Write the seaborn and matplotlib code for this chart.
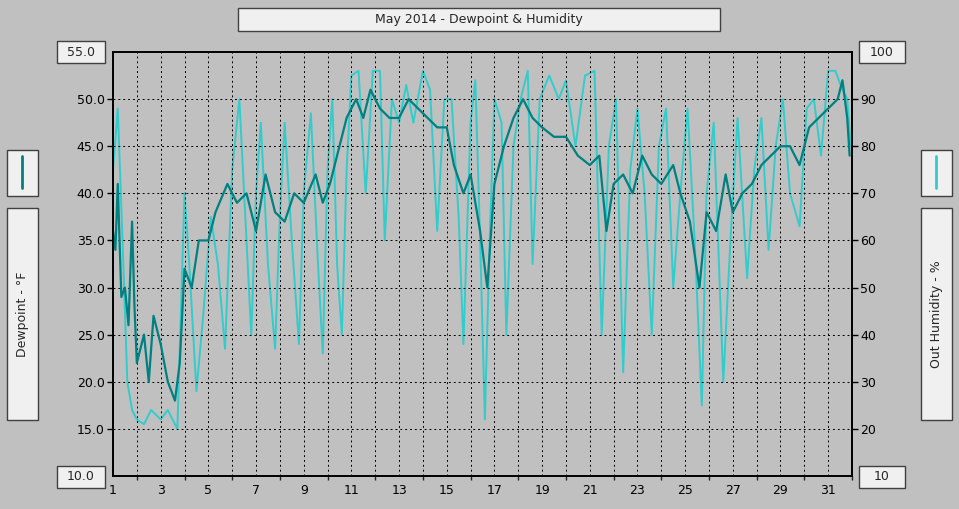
import matplotlib
matplotlib.use("Agg")
import matplotlib.pyplot as plt
import seaborn as sns
import pandas as pd
from matplotlib.patches import Rectangle

BG = "#c0c0c0"
DEW_COLOR = "#008080"
HUM_COLOR = "#33cccc"

dew_day = [1.0, 1.1, 1.2, 1.35, 1.5, 1.65, 1.8, 1.9, 2.0, 2.3, 2.5, 2.7, 3.0, 3.3, 3.6, 3.8, 4.0,
           4.3, 4.6, 5.0, 5.3, 5.8, 6.2, 6.6, 7.0, 7.4, 7.8, 8.2, 8.6, 9.0, 9.5, 9.8, 10.1, 10.5,
           10.8, 11.2, 11.5, 11.8, 12.2, 12.6, 13.0, 13.4, 13.8, 14.2, 14.6, 15.0, 15.3, 15.7,
           16.0, 16.4, 16.7, 17.0, 17.4, 17.8, 18.2, 18.6, 19.0, 19.5, 20.0, 20.5, 21.0, 21.4,
           21.7, 22.0, 22.4, 22.8, 23.2, 23.6, 24.0, 24.5, 24.8, 25.2, 25.6, 25.9, 26.3, 26.7,
           27.0, 27.4, 27.8, 28.2, 28.6, 29.0, 29.4, 29.8, 30.2, 30.6, 31.0, 31.4, 31.6, 31.8, 31.9]
dew_val = [36, 34, 41, 29, 30, 26, 37, 28, 22, 25, 20, 27, 24, 20, 18, 22, 32,
           30, 35, 35, 38, 41, 39, 40, 36, 42, 38, 37, 40, 39, 42, 39, 41, 45,
           48, 50, 48, 51, 49, 48, 48, 50, 49, 48, 47, 47, 43, 40,
           42, 36, 30, 41, 45, 48, 50, 48, 47, 46, 46, 44, 43, 44,
           36, 41, 42, 40, 44, 42, 41, 43, 40, 37, 30, 38, 36, 42,
           38, 40, 41, 43, 44, 45, 45, 43, 47, 48, 49, 50, 52, 48, 44]

hum_day = [1.0, 1.2, 1.4, 1.6, 1.8, 2.0, 2.3, 2.6, 3.0, 3.3, 3.7, 4.0, 4.2, 4.5, 4.8, 5.1, 5.4,
           5.7, 6.0, 6.3, 6.6, 6.8, 7.0, 7.2, 7.5, 7.8, 8.0, 8.2, 8.5, 8.8, 9.0, 9.3, 9.6, 9.8,
           10.0, 10.2, 10.4, 10.6, 10.8, 11.0, 11.3, 11.6, 11.9, 12.2, 12.4, 12.7, 13.0, 13.3,
           13.6, 14.0, 14.3, 14.6, 14.9, 15.2, 15.5, 15.7, 16.0, 16.2, 16.4, 16.6, 16.8, 17.0,
           17.3, 17.5, 17.8, 18.1, 18.4, 18.6, 18.9, 19.3, 19.7, 20.0, 20.4, 20.8, 21.2, 21.5,
           21.8, 22.1, 22.4, 22.7, 23.0, 23.3, 23.6, 23.9, 24.2, 24.5, 24.8, 25.1, 25.4, 25.7,
           25.9, 26.2, 26.6, 26.9, 27.2, 27.6, 27.9, 28.2, 28.5, 28.8, 29.1, 29.4, 29.8, 30.1,
           30.4, 30.7, 31.0, 31.3, 31.6, 31.8, 31.95]
hum_val = [75, 88, 60, 30, 24, 22, 21, 24, 22, 24, 20, 70, 55, 28, 45, 65, 55,
           37, 75, 90, 60, 40, 70, 85, 55, 37, 65, 85, 60, 38, 70, 87, 55, 36,
           75, 90, 55, 40, 75, 95, 96, 70, 96, 96, 60, 90, 85, 93,
           85, 96, 92, 62, 90, 90, 65, 38, 85, 94, 60, 22, 60, 90,
           85, 40, 80, 90, 96, 55, 90, 95, 90, 94, 80, 95, 96, 40,
           80, 90, 32, 75, 88, 70, 40, 80, 88, 50, 70, 88, 60, 25,
           70, 85, 30, 60, 86, 52, 75, 86, 58, 80, 90, 70, 63, 88,
           90, 78, 96, 96, 92, 90, 80]


def box(fig, x0, y0, x1, y1, text=None, rot=0, size=9):
    W, H = 959, 509
    fig.patches.append(Rectangle((x0 / W, 1 - y1 / H), (x1 - x0) / W, (y1 - y0) / H,
                                 transform=fig.transFigure, facecolor="#f0f0f0",
                                 edgecolor="#404040", linewidth=1.0))
    if text:
        fig.text((x0 + x1) / 2 / W, 1 - (y0 + y1) / 2 / H, text, rotation=rot,
                 ha="center", va="center", fontsize=size)


def main() -> None:
    sns.set_theme(style="white", rc={"font.family": "DejaVu Sans"})
    fig = plt.figure(figsize=(9.59, 5.09), dpi=100, facecolor=BG)
    ax = fig.add_axes([113 / 959, 33 / 509, 739 / 959, 424 / 509])
    ax.set_facecolor(BG)

    dew = pd.DataFrame({"day": dew_day, "dewpoint": dew_val})
    hum = pd.DataFrame({"day": hum_day, "humidity": hum_val})

    ax2 = ax.twinx()
    sns.lineplot(data=hum, x="day", y="humidity", ax=ax2, color=HUM_COLOR, linewidth=1.4)
    sns.lineplot(data=dew, x="day", y="dewpoint", ax=ax, color=DEW_COLOR, linewidth=1.6)
    ax.set_zorder(ax2.get_zorder() + 1)
    ax.patch.set_visible(False)

    ax.set_xlim(1, 32)
    ax.set_ylim(10, 55)
    ax2.set_ylim(10, 100)
    ax.set_xticks(range(1, 33, 2))
    ax.set_xticklabels([str(d) for d in range(1, 33, 2)], fontsize=9)
    ax.set_xticks(range(1, 33), minor=True)
    ax.set_yticks([15, 20, 25, 30, 35, 40, 45, 50])
    ax.set_yticklabels([f"{v:.1f}" for v in [15, 20, 25, 30, 35, 40, 45, 50]], fontsize=9)
    ax2.set_yticks(range(20, 100, 10))
    ax2.set_yticklabels([str(v) for v in range(20, 100, 10)], fontsize=9)
    for a in (ax, ax2):
        a.set_xlabel("")
        a.set_ylabel("")
        a.tick_params(length=4, width=1, colors="black", pad=2)
        for s in a.spines.values():
            s.set_color("black")
    ax.tick_params(which="minor", length=3, bottom=True)
    ax.tick_params(axis="y", left=True)
    ax2.tick_params(axis="y", right=True)
    ax.grid(True, which="both", axis="x", color="black", linestyle=(0, (2, 3)), linewidth=0.7)
    ax.grid(True, axis="y", color="black", linestyle=(0, (2, 3)), linewidth=0.7)

    box(fig, 238, 8, 720, 31, "May 2014 - Dewpoint & Humidity")
    box(fig, 57, 41, 105, 63, "55.0")
    box(fig, 57, 466, 105, 488, "10.0")
    box(fig, 859, 41, 905, 63, "100")
    box(fig, 859, 466, 905, 488, "10")
    box(fig, 7, 150, 38, 196)
    box(fig, 7, 208, 38, 420, "Dewpoint - °F", rot=90)
    box(fig, 921, 150, 952, 196)
    box(fig, 921, 208, 952, 420, "Out Humidity - %", rot=90)
    fig.lines.append(plt.Line2D([22 / 959, 22 / 959], [1 - 156 / 509, 1 - 188 / 509],
                                transform=fig.transFigure, color=DEW_COLOR, linewidth=2))
    fig.lines.append(plt.Line2D([936 / 959, 936 / 959], [1 - 156 / 509, 1 - 188 / 509],
                                transform=fig.transFigure, color=HUM_COLOR, linewidth=2))

    fig.savefig("out.png", dpi=100, facecolor=BG)
    plt.close(fig)


if __name__ == "__main__":
    main()
